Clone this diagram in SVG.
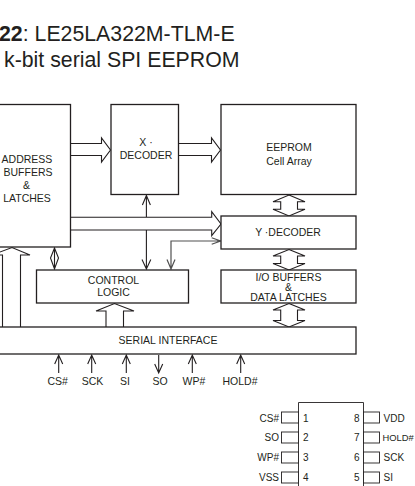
<svg xmlns="http://www.w3.org/2000/svg" width="415" height="486" viewBox="0 0 415 486">
<style>
text{font-family:"Liberation Sans",Arial,sans-serif;fill:#231f20}
.t{font-size:10.5px;text-anchor:middle}
.h{font-size:21.3px}
.p{font-size:10px}
.b{fill:#fff;stroke:#231f20;stroke-width:1.3}
.l{fill:none;stroke:#231f20;stroke-width:1.1}
.g{fill:none;stroke:#505050;stroke-width:1.2}
.c{fill:#fff;stroke:#231f20;stroke-width:.9}
</style>
<rect width="415" height="486" fill="#fff"/>
<g id="title">
<text class="h" x="-1" y="40.500"><tspan font-weight="bold">22</tspan>: LE25LA322M-TLM-E</text>
<text class="h" x="4" y="66.500">k-bit serial SPI EEPROM</text>
</g>
<g id="connectors">
<path class="l" d="M71 143.500H101.500V138L110.500 150L101.500 162V155.500H71"/>
<path class="l" d="M178 143.500H211.500V138L220.500 150L211.500 162V155.500H178"/>
<path class="l" d="M71 217.300H211.700V211.700L221 224L211.700 235.700V230H71"/>
<path class="l" d="M146.400 217V195.500M142.400 205L146.400 195.500L150.400 205"/>
<path class="l" d="M146.400 230V269M142 259.500L146.400 269L150.800 259.500"/>
<path class="g" d="M171 269V241H220M167 259.500L171 269L175 259.500M211.700 237.700L220.700 241L211.700 244.300"/>
<path class="l" d="M54.500 248V269M54.500 248L50.500 258L54.500 269L58.500 258Z"/>
<path class="l" d="M2.500 327V255H-8L12 247.500L30 255H20.500V327"/>
<path class="l" d="M106 327V311H96L114.500 303.500L134 311H123.500V327"/>
<path class="l" d="M289 195L305 201.700H297.500V209.300H305L289 216L273 209.300H280.700V201.700H273Z"/>
<path class="l" d="M289 249.500L305 256H297.500V263.500H305L289 270L273 263.500H280.700V256H273Z"/>
<path class="l" d="M289 303.500L305 310H297.500V320.500H305L289 327L273 320.500H280.700V310H273Z"/>
<path class="l" d="M58.700 373V355M54.700 364L58.700 355L62.700 364"/>
<path class="l" d="M91.700 373V355M87.700 364L91.700 355L95.700 364"/>
<path class="l" d="M126.300 373V355M122.300 364L126.300 355L130.300 364"/>
<path class="l" d="M158.700 355V373M154.700 364L158.700 373L162.700 364"/>
<path class="l" d="M192.300 373V355M188.300 364L192.300 355L196.300 364"/>
<path class="l" d="M240.700 373V355M236.700 364L240.700 355L244.700 364"/>
</g>
<g id="address"><rect class="b" x="-10" y="104.500" width="80.500" height="142.500"/>
<text class="t" x="27" y="163">ADDRESS</text><text class="t" x="28" y="176">BUFFERS</text><text class="t" x="26.500" y="189">&amp;</text><text class="t" x="27" y="201.500">LATCHES</text></g>
<g id="x-decoder"><rect class="b" x="111" y="104.500" width="67.500" height="90"/>
<text class="t" x="146" y="146">X ·</text><text class="t" x="146" y="159">DECODER</text></g>
<g id="eeprom"><rect class="b" x="221" y="104.500" width="135" height="90"/>
<text class="t" x="289" y="151">EEPROM</text><text class="t" x="289" y="165">Cell Array</text></g>
<g id="y-decoder"><rect class="b" x="221" y="216" width="135" height="33"/>
<text class="t" x="288" y="236">Y ·DECODER</text></g>
<g id="io"><rect class="b" x="221" y="270" width="135" height="33"/>
<text class="t" x="288.500" y="280.700">I/O BUFFERS</text><text class="t" x="288.500" y="290.500">&amp;</text><text class="t" x="288.500" y="300.700">DATA LATCHES</text></g>
<g id="control"><rect class="b" x="36.500" y="270" width="152" height="33"/>
<text class="t" x="113.500" y="283.500">CONTROL</text><text class="t" x="113.500" y="296">LOGIC</text></g>
<g id="serial"><rect class="b" x="-10" y="327" width="366" height="27"/>
<text class="t" x="168" y="344">SERIAL INTERFACE</text></g>
<g id="signals">
<text class="t" x="57.700" y="384.500">CS#</text><text class="t" x="92.500" y="384.500">SCK</text><text class="t" x="125" y="384.500">SI</text><text class="t" x="160" y="384.500">SO</text><text class="t" x="194" y="384.500">WP#</text><text class="t" x="240" y="384.500">HOLD#</text>
</g>
<g id="chip">
<path class="c" d="M298.500 486V402.500H363.500V486"/>
<rect class="c" x="281.500" y="412" width="17" height="11"/><rect class="c" x="281.500" y="432" width="17" height="11"/><rect class="c" x="281.500" y="452" width="17" height="11"/><rect class="c" x="281.500" y="472" width="17" height="11"/>
<rect class="c" x="363.500" y="412" width="16" height="11"/><rect class="c" x="363.500" y="432" width="16" height="11"/><rect class="c" x="363.500" y="452" width="16" height="11"/><rect class="c" x="363.500" y="472" width="16" height="11"/>
<text class="p" x="279" y="422" text-anchor="end">CS#</text><text class="p" x="279" y="441" text-anchor="end">SO</text><text class="p" x="279" y="461" text-anchor="end">WP#</text><text class="p" x="279" y="481" text-anchor="end">VSS</text>
<text class="p" x="303" y="422">1</text><text class="p" x="303" y="441">2</text><text class="p" x="303" y="461">3</text><text class="p" x="303" y="481">4</text>
<text class="p" x="354" y="422">8</text><text class="p" x="354" y="441">7</text><text class="p" x="354" y="461">6</text><text class="p" x="354" y="481">5</text>
<text class="p" x="383.500" y="422">VDD</text><text class="p" x="382.500" y="441" style="font-size:9.400px">HOLD#</text><text class="p" x="383.500" y="461">SCK</text><text class="p" x="383.500" y="481">SI</text>
</g>
</svg>
